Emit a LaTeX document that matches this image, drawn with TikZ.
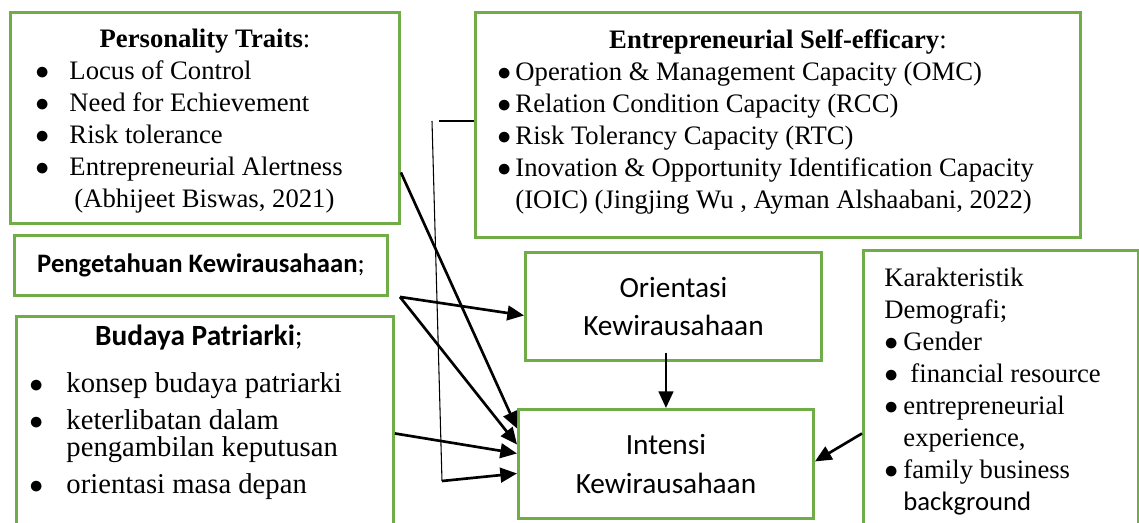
\documentclass[tikz,border=0pt]{standalone}
\usepackage{fontspec}
\setmainfont{Liberation Serif}
\newfontfamily\calibri{Carlito}
\usepackage{xcolor}
\usetikzlibrary{arrows.meta, positioning}

\definecolor{boxgreen}{RGB}{112,173,71}
\newdimen\px
\px=0.75pt
% bullet line: #1 bullet indent, #2 bullet width, #3 text
\newcommand{\bline}[3]{\hangindent=\dimexpr#1\px+#2\px\relax\hangafter=1
  \hspace*{#1\px}\makebox[#2\px][l]{$\bullet$}#3\par}
\newcommand{\panelbox}[3]{\begin{minipage}[c][#2\px][t]{#1\px}#3\end{minipage}}

\begin{document}
\begin{tikzpicture}[x=0.75pt, y=-0.75pt,
    panel/.style={draw=boxgreen, line width=2.2pt, inner sep=0pt, anchor=north west},
    arr/.style={-{Triangle[length=12.5pt, width=11pt]}, line width=2pt},
    link/.style={line width=0.8pt}]
  \useasboundingbox (0,0) rectangle (1139,523);

  \node[panel] (traits) at (9,11) {\panelbox{389}{211}{%
      \fontsize{20}{24}\selectfont\vspace*{17\px}
      {\centering\textbf{Personality Traits}:\par}
      \bline{25}{34}{Locus of Control}
      \bline{25}{34}{Need for Echievement}
      \bline{25}{34}{Risk tolerance}
      \bline{25}{34}{Entrepreneurial Alertness\\\hspace*{5\px}(Abhijeet Biswas, 2021)}}};

  \node[panel] (efficacy) at (474,11) {\panelbox{605}{225}{%
      \fontsize{20}{24}\selectfont\vspace*{17\px}
      {\centering\textbf{Entrepreneurial Self-efficary}:\par}
      \bline{22}{18}{Operation \& Management Capacity (OMC)}
      \bline{22}{18}{Relation Condition Capacity (RCC)}
      \bline{22}{18}{Risk Tolerancy Capacity (RTC)}
      \bline{22}{18}{Inovation \& Opportunity Identification Capacity\\(IOIC) (Jingjing Wu , Ayman Alshaabani, 2022)}}};

  \node[panel, minimum width=373\px, minimum height=60\px,
    font=\calibri\fontsize{20}{24}\selectfont] (knowledge) at (13,234)
    {\textbf{Pengetahuan Kewirausahaan};};

  \node[panel] (culture) at (15,315) {\panelbox{377}{215}{%
      \vspace*{8\px}
      {\centering\calibri\fontsize{22}{26}\selectfont\hspace*{-12\px}\textbf{Budaya Patriarki};\par}
      \vspace{10\px}
      \fontsize{21.5}{20.25}\selectfont\parskip=7.5pt
      \bline{13}{37}{konsep budaya patriarki}
      \bline{13}{37}{keterlibatan dalam\\pengambilan keputusan}
      \bline{13}{37}{orientasi masa depan}}};

  \node[panel, minimum width=296\px, minimum height=108\px, align=center,
    font=\calibri\fontsize{22}{29}\selectfont] (orient) at (524,251)
    {Orientasi\\Kewirausahaan};

  \node[panel, minimum width=295\px, minimum height=109\px, align=center,
    font=\calibri\fontsize{22}{29}\selectfont] (intent) at (517,408)
    {Intensi\\Kewirausahaan};

  \node[panel] (demog) at (862,249) {\panelbox{275}{285}{%
      \fontsize{20}{24}\selectfont\leftskip=21\px\vspace*{18\px}
      Karakteristik\par
      Demografi;\par
      \bline{0}{19}{Gender}
      \bline{0}{19}{\hspace{7\px}financial resource}
      \bline{0}{19}{entrepreneurial\\experience,}
      \bline{0}{19}{family business\\{\calibri background}}}};

  \coordinate (kfork) at ([xshift=11\px]knowledge.south east);
  \coordinate (vstub) at (439,121);
  \coordinate (vtop) at (432,121);
  \coordinate (vbot) at (442,481);

  \draw[arr] ([yshift=-54.5\px]traits.east) -- ([yshift=35.5\px]intent.west);
  \draw[arr] (kfork) -- ([yshift=-9\px]orient.west);
  \draw[arr] (kfork) -- ([yshift=19.5\px]intent.west);
  \draw[arr] ([yshift=-9.5\px]culture.east) -- ([yshift=10.5\px]intent.west);
  \draw[link] (efficacy.west |- vstub) -- (vstub);
  \draw[link] (vtop) -- (vbot);
  \draw[arr] (vbot) -- ([yshift=-9.5\px]intent.west);
  \draw[arr] (intent.north |- orient.south) ++(0,-9) -- (intent.north);
  \draw[arr] ([yshift=-40.5\px]demog.west) -- ([yshift=2.5\px]intent.east);
\end{tikzpicture}
\end{document}
